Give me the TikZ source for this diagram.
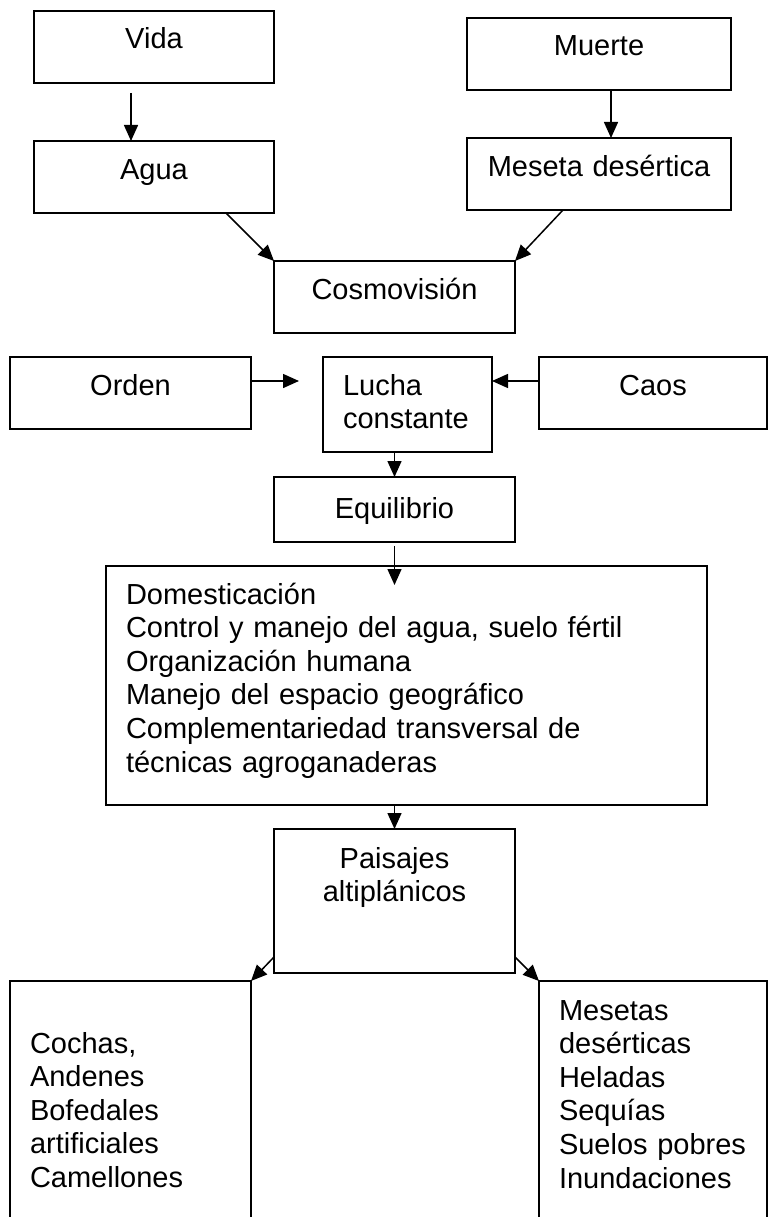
\documentclass[tikz,border=0pt]{standalone}
\usepackage{fontspec}
\setmainfont{Liberation Sans}
\usetikzlibrary{arrows.meta}

\begin{document}
\begin{tikzpicture}[
    x=1pt, y=1pt,
    every node/.style={font=\fontsize{29}{33.6}\selectfont},
    bx/.style={draw, line width=1.5pt, outer sep=0pt, inner xsep=0pt, inner ysep=0pt,
               align=center, text height=38pt, text depth=34pt},
    lf/.style={bx, align=left, inner xsep=20pt},
    e/.style={line width=1.5pt, -{Triangle[length=16pt, width=14pt]}},
  ]
  \useasboundingbox (0,0) rectangle (768,-1217);
  \clip (0,0) rectangle (768,-1217);
  \node[bx, text width=240pt] (vida) at (154, -47) {Vida};
  \node[bx, text width=240pt] (agua) at (154, -177) {Agua};
  \node[bx, text width=264pt] (muerte) at (599, -54) {Muerte};
  \node[bx, text width=264pt] (meseta) at (599, -174) {Meseta desértica};
  \node[bx, text width=241pt] (cosmo) at (394.5, -297) {Cosmovisión};
  \node[bx, text width=241pt] (orden) at (130.5, -393) {Orden};
  \node[lf, text width=129pt, text depth=57pt] (lucha) at (407.5, -404.5) {Lucha\\constante};
  \node[bx, text width=228pt] (caos) at (653, -393) {Caos};
  \node[bx, text width=241pt, text height=41pt, text depth=24pt] (equil) at (394.5, -509.5) {Equilibrio};
  \node[lf, text width=561pt, text depth=201pt] (big) at (406.5, -685.5) {Domesticación\\Control y manejo del agua, suelo fértil\\Organización humana\\Manejo del espacio geográfico\\Complementariedad transversal de\\técnicas agroganaderas};
  \node[bx, text width=241pt, text height=39pt, text depth=105pt] (paisajes) at (394.5, -901) {Paisajes\\altiplánicos};
  \node[lf, text width=201pt, text height=72pt, text depth=187pt] (left) at (130.5, -1110.5) {Cochas,\\Andenes\\Bofedales\\artificiales\\Camellones};
  \node[lf, text width=188pt, text height=39pt, text depth=220pt] (right) at (653, -1110.5) {Mesetas\\desérticas\\Heladas\\Sequías\\Suelos pobres\\Inundaciones};
  \draw[e, shorten <=10pt] ([xshift=-23pt]vida.south) -- ([xshift=-23pt]agua.north);
  \draw[e] ([xshift=12pt]muerte.south) -- ([xshift=12pt]meseta.north);
  \draw[e] ([xshift=72pt]agua.south) -- (cosmo.north west);
  \draw[e] ([xshift=-36pt]meseta.south) -- (cosmo.north east);
  \draw[e, shorten >=24pt] ([yshift=12pt]orden.east) -- ([yshift=12pt]orden.east -| lucha.west);
  \draw[e] ([yshift=12pt]caos.west) -- ([yshift=12pt]caos.west -| lucha.east);
  \draw[e] (lucha.south -| equil.north) -- (equil.north);
  \draw[e, shorten <=4pt, shorten >=-19pt] (equil.south) -- (equil.south |- big.north);
  \draw[e] (big.south -| paisajes.north) -- (paisajes.north);
  \draw[e] ([yshift=16pt]paisajes.south west) -- (left.north east);
  \draw[e] ([yshift=16pt]paisajes.south east) -- (right.north west);
\end{tikzpicture}
\end{document}
